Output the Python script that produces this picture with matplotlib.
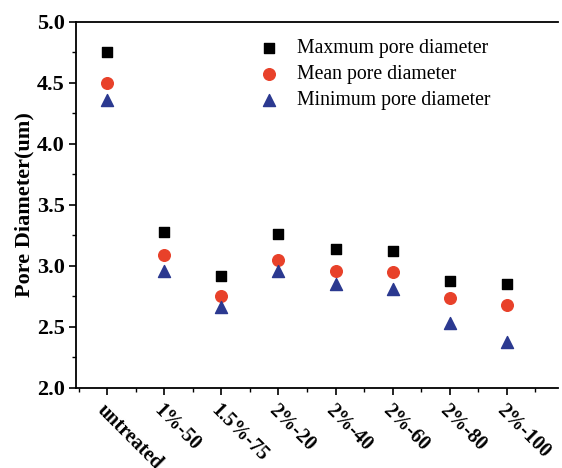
import matplotlib
matplotlib.use('Agg')
import matplotlib.pyplot as plt
from matplotlib.ticker import MultipleLocator

# Sample groups and measured pore diameters (um)
samples = ['untreated', '1%-50', '1.5%-75', '2%-20', '2%-40', '2%-60', '2%-80', '2%-100']
max_diam = [4.75, 3.28, 2.92, 3.26, 3.14, 3.12, 2.88, 2.85]
mean_diam = [4.50, 3.09, 2.75, 3.05, 2.96, 2.95, 2.74, 2.68]
min_diam = [4.36, 2.96, 2.66, 2.96, 2.85, 2.81, 2.53, 2.38]

plt.rcParams['font.family'] = ['Liberation Serif', 'DejaVu Serif']
plt.rcParams['font.weight'] = 'bold'

fig = plt.figure(figsize=(5.62, 4.68), dpi=100)
ax = fig.add_axes([0.135, 0.171, 0.858, 0.782])

x = list(range(len(samples)))
ax.scatter(x, max_diam, marker='s', s=60, color='black', label='Maxmum pore diameter', zorder=3)
ax.scatter(x, mean_diam, marker='o', s=70, color='#e8412a', label='Mean pore diameter', zorder=3)
ax.scatter(x, min_diam, marker='^', s=75, color='#2b3990', label='Minimum pore diameter', zorder=3)

ax.set_xlim(-0.55, 7.9)
ax.set_ylim(2.0, 5.0)
ax.yaxis.set_major_locator(MultipleLocator(0.5))
ax.yaxis.set_minor_locator(MultipleLocator(0.25))
ax.set_xticks(x)
ax.xaxis.set_minor_locator(MultipleLocator(0.5))
ax.set_xticklabels(samples, rotation=-45, ha='left', va='top',
                   rotation_mode='anchor', fontsize=14.5, fontweight='bold')
for lab in ax.get_yticklabels():
    lab.set_fontweight('bold')
ax.tick_params(axis='y', labelsize=16, direction='out', length=5, width=1.2, pad=3)
ax.tick_params(axis='x', direction='out', length=5, width=1.2, pad=4)
ax.tick_params(which='minor', direction='out', length=3, width=1)

ax.set_ylabel('Pore Diameter(um)', fontsize=16, fontweight='bold', labelpad=2)

for side in ['left', 'bottom', 'top']:
    ax.spines[side].set_linewidth(1.3)
ax.spines['right'].set_visible(False)

leg = ax.legend(loc='upper left', bbox_to_anchor=(0.335, 0.985), frameon=False,
                handletextpad=0.4, labelspacing=0.35, borderaxespad=0.2,
                prop={'family': ['Liberation Serif'], 'weight': 'normal', 'size': 14.2})

fig.savefig('out.png', dpi=100)
